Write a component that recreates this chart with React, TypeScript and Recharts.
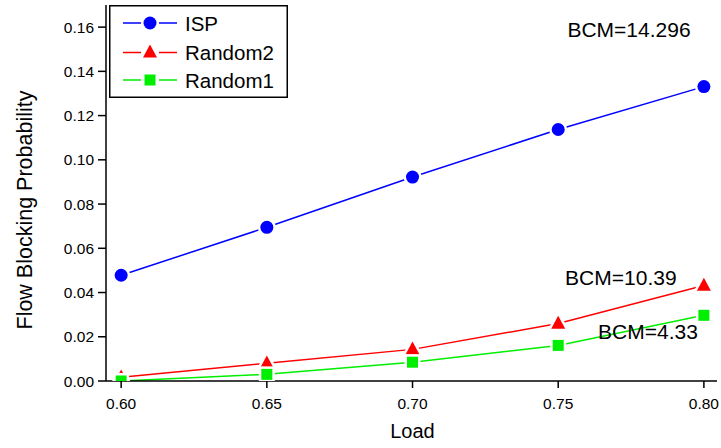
import React from 'react';
import { LineChart, Line, XAxis, YAxis, Legend, ReferenceDot } from 'recharts';

const loads = [0.6, 0.65, 0.7, 0.75, 0.8];
const ispValues = [0.0478, 0.0695, 0.0922, 0.1137, 0.1331];
const random2Values = [0.0017, 0.008, 0.0143, 0.026, 0.0432];
const random1Values = [0.0, 0.003, 0.0085, 0.0161, 0.0297];
const xTicks = [0.6, 0.65, 0.7, 0.75, 0.8];
const yTicks = [0, 0.02, 0.04, 0.06, 0.08, 0.1, 0.12, 0.14, 0.16];
const seriesNames = ['ISP', 'Random2', 'Random1'];
const annotations = [
  { x: 0.7743, y: 0.159, text: 'BCM=14.296' },
  { x: 0.7715, y: 0.0469, text: 'BCM=10.39' },
  { x: 0.7808, y: 0.0224, text: 'BCM=4.33' },
];

const data = loads.map((load, i) => ({
  load,
  isp: ispValues[i],
  r2: random2Values[i],
  r1: random1Values[i],
}));

const FONT = 'Liberation Sans, Arial, sans-serif';
const BLUE = '#0000ff';
const RED = '#ff0000';
const GREEN = '#00ee00';
const HALO = 5;

const CircleDot = (props: any) => {
  const { cx, cy } = props;
  if (cx == null || cy == null) return null;
  return <circle cx={cx} cy={cy} r={6.5} fill={BLUE} stroke="#fff" strokeWidth={HALO} paintOrder="stroke" />;
};
const TriDot = (props: any) => {
  const { cx, cy } = props;
  if (cx == null || cy == null) return null;
  const w = 14, h = 13;
  return (
    <path
      d={`M${cx},${cy - h * 0.6} L${cx + w / 2},${cy + h * 0.4} L${cx - w / 2},${cy + h * 0.4} Z`}
      fill={RED}
      stroke="#fff"
      strokeWidth={HALO}
      strokeLinejoin="round"
      paintOrder="stroke"
    />
  );
};
const SquareDot = (props: any) => {
  const { cx, cy } = props;
  if (cx == null || cy == null) return null;
  const s = 11;
  return (
    <rect x={cx - s / 2} y={cy - s / 2} width={s} height={s} fill={GREEN} stroke="#fff" strokeWidth={HALO} paintOrder="stroke" />
  );
};

const legendItems = [
  { name: seriesNames[0], color: BLUE, shape: 'circle' },
  { name: seriesNames[1], color: RED, shape: 'triangle' },
  { name: seriesNames[2], color: GREEN, shape: 'square' },
];

const LegendBox = () => {
  const W = 179, H = 93;
  const rows = [18, 47.5, 75];
  return (
    <svg width={W} height={H} style={{ display: 'block' }}>
      <rect x={0.75} y={0.75} width={W - 1.5} height={H - 1.5} fill="#fff" stroke="#000" strokeWidth={1.5} />
      {legendItems.map((it, i) => {
        const y = rows[i];
        const mx = 41;
        let marker: any = null;
        if (it.shape === 'circle') marker = <circle cx={mx} cy={y} r={6.5} fill={it.color} />;
        else if (it.shape === 'triangle')
          marker = <path d={`M${mx},${y - 8} L${mx + 7},${y + 5} L${mx - 7},${y + 5} Z`} fill={it.color} />;
        else marker = <rect x={mx - 5.5} y={y - 5.5} width={11} height={11} fill={it.color} />;
        return (
          <g key={it.name}>
            <line x1={14} y1={y} x2={32} y2={y} stroke={it.color} strokeWidth={1.5} />
            <line x1={50} y1={y} x2={68} y2={y} stroke={it.color} strokeWidth={1.5} />
            {marker}
            <text x={76} y={y + 7.5} fontSize={20.5} style={{ fontFamily: FONT }} fill="#000">
              {it.name}
            </text>
          </g>
        );
      })}
    </svg>
  );
};

const XLabel = (props: any) => {
  const vb = props.viewBox || {};
  return (
    <text x={vb.x + vb.width / 2 + 1} y={vb.y + 56.5} textAnchor="middle" fontSize={20} style={{ fontFamily: FONT }} fill="#000">
      Load
    </text>
  );
};

const YLabel = (props: any) => {
  const vb = props.viewBox || {};
  const x = vb.x + 32;
  const y = vb.y + vb.height / 2 + 17;
  return (
    <text
      x={x}
      y={y}
      transform={`rotate(-90, ${x}, ${y})`}
      textAnchor="middle"
      fontSize={21.5}
      style={{ fontFamily: FONT }}
      fill="#000"
    >
      Flow Blocking Probability
    </text>
  );
};

const tickStyle = { fontSize: 15.5, fontFamily: FONT, fill: '#000' };

export default function App() {
  return (
    <div style={{ position: 'absolute', left: 0, top: 0, width: 721, height: 448, background: '#fff', fontFamily: FONT }}>
      <LineChart width={721} height={448} data={data} margin={{ top: 5, right: 4, left: 0, bottom: 0 }} style={{ fontFamily: FONT }}>
        <XAxis
          dataKey="load"
          type="number"
          domain={[0.5948, 0.8045]}
          allowDataOverflow
          ticks={xTicks}
          tickFormatter={(v: number) => v.toFixed(2)}
          height={67}
          tick={tickStyle}
          tickSize={7}
          tickMargin={10}
          stroke="#000"
          strokeWidth={1.5}
          tickLine={{ stroke: '#000', strokeWidth: 1.5 }}
          label={<XLabel />}
        />
        <XAxis
          xAxisId="top"
          orientation="top"
          dataKey="load"
          type="number"
          domain={[0.5948, 0.8045]}
          height={0}
          tick={false}
          tickLine={false}
          stroke="#000"
          strokeWidth={1.5}
        />
        <YAxis
          type="number"
          domain={[0, 0.17]}
          allowDataOverflow
          ticks={yTicks}
          tickFormatter={(v: number) => v.toFixed(2)}
          width={106}
          tick={tickStyle}
          tickSize={8}
          tickMargin={4}
          stroke="#000"
          strokeWidth={1.5}
          tickLine={{ stroke: '#000', strokeWidth: 1.5 }}
          label={<YLabel />}
        />
        <YAxis
          yAxisId="right"
          orientation="right"
          type="number"
          domain={[0, 0.17]}
          width={0}
          tick={false}
          tickLine={false}
          stroke="#000"
          strokeWidth={1.5}
        />
        <Line
          dataKey="isp"
          name={seriesNames[0]}
          stroke={BLUE}
          strokeWidth={1.5}
          dot={<CircleDot />}
          activeDot={false}
          isAnimationActive={false}
        />
        <Line
          dataKey="r2"
          name={seriesNames[1]}
          stroke={RED}
          strokeWidth={1.5}
          dot={<TriDot />}
          activeDot={false}
          isAnimationActive={false}
        />
        <Line
          dataKey="r1"
          name={seriesNames[2]}
          stroke={GREEN}
          strokeWidth={1.5}
          dot={<SquareDot />}
          activeDot={false}
          isAnimationActive={false}
        />
        {annotations.map((a) => (
          <ReferenceDot
            key={a.text}
            x={a.x}
            y={a.y}
            r={0}
            fill="none"
            stroke="none"
            label={{ value: a.text, position: 'center', fontSize: 21, fontFamily: FONT, fill: '#000' }}
          />
        ))}
        <Legend
          layout="vertical"
          align="center"
          verticalAlign="middle"
          content={<LegendBox />}
          wrapperStyle={{ position: 'absolute', left: 109, top: 5, width: 179, height: 93 }}
        />
      </LineChart>
    </div>
  );
}
